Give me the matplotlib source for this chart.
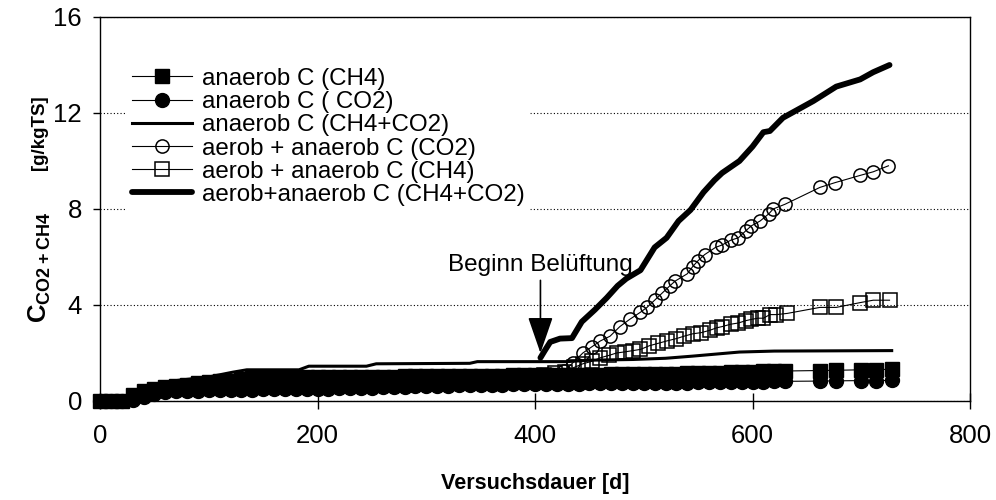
import matplotlib.pyplot as plt

plt.rcParams['font.family'] = ['Liberation Sans', 'DejaVu Sans']
plt.rcParams['mathtext.fontset'] = 'custom'
plt.rcParams['mathtext.rm'] = 'Liberation Sans'
plt.rcParams['mathtext.bf'] = 'Liberation Sans:bold'

# anaerob Messreihe (Tage)
tage_an = [0, 10, 20, 30, 40, 50, 60, 70, 80, 90, 100, 110, 120, 130, 140, 150, 160, 170, 180, 190,
           200, 210, 220, 230, 240, 250, 260, 270, 280, 290, 300, 310, 320, 330, 340, 350, 360, 370,
           380, 390, 400, 410, 420, 430, 440, 450, 460, 470, 480, 490, 500, 510, 520, 530, 540, 550,
           560, 570, 580, 590, 600, 610, 620, 630, 662, 677, 700, 714, 728]
an_ch4 = [0, 0, 0, 0.25, 0.4, 0.5, 0.6, 0.62, 0.65, 0.75, 0.8, 0.82, 0.85, 0.92, 0.94, 0.95, 0.96, 0.97, 0.98, 0.98,
          0.99, 1.0, 1.0, 1.0, 1.01, 1.01, 1.02, 1.02, 1.03, 1.03, 1.04, 1.04, 1.05, 1.05, 1.05, 1.06, 1.06, 1.06,
          1.07, 1.07, 1.08, 1.08, 1.09, 1.09, 1.1, 1.1, 1.1, 1.11, 1.11, 1.12, 1.12, 1.13, 1.13, 1.14, 1.15, 1.16,
          1.17, 1.18, 1.2, 1.21, 1.22, 1.23, 1.24, 1.25, 1.27, 1.28, 1.3, 1.31, 1.32]
an_co2 = [0, 0, 0, 0.05, 0.15, 0.3, 0.38, 0.4, 0.42, 0.43, 0.44, 0.45, 0.45, 0.46, 0.47, 0.48, 0.48, 0.49, 0.5, 0.5,
          0.51, 0.52, 0.53, 0.54, 0.55, 0.56, 0.57, 0.58, 0.6, 0.61, 0.62, 0.63, 0.64, 0.65, 0.66, 0.67, 0.68, 0.68,
          0.69, 0.7, 0.7, 0.71, 0.71, 0.72, 0.72, 0.73, 0.73, 0.74, 0.74, 0.75, 0.75, 0.76, 0.76, 0.77, 0.77, 0.78,
          0.78, 0.79, 0.8, 0.8, 0.81, 0.81, 0.82, 0.82, 0.83, 0.84, 0.85, 0.85, 0.86]

# anaerob Summe
tage_sum = [0, 20, 30, 50, 70, 100, 122, 135, 183, 192, 245, 254, 340, 347, 429, 451, 490, 520, 545, 588, 620, 728]
an_sum = [0, 0, 0.2, 0.6, 0.85, 1.0, 1.2, 1.3, 1.3, 1.45, 1.45, 1.55, 1.57, 1.64, 1.64, 1.7, 1.73, 1.78, 1.87, 2.04,
          2.08, 2.1]

# aerob + anaerob
tage_co2 = [405, 412, 420, 427, 435, 444, 452, 460, 469, 478, 487, 497, 503, 510, 517, 524, 529, 540, 545, 550,
            556, 566, 572, 580, 587, 594, 599, 607, 615, 619, 630, 662, 676, 699, 711, 725]
ae_co2 = [0.9, 1.0, 1.1, 1.25, 1.6, 2.0, 2.25, 2.5, 2.7, 3.1, 3.4, 3.7, 3.9, 4.2, 4.5, 4.8, 5.0, 5.3, 5.6, 5.85,
          6.1, 6.4, 6.5, 6.7, 6.8, 7.1, 7.3, 7.5, 7.8, 8.0, 8.2, 8.9, 9.1, 9.4, 9.55, 9.8]

tage_ch4 = [408, 418, 428, 436, 444, 452, 460, 468, 475, 483, 490, 497, 505, 513, 521, 530, 537, 545, 553, 561,
            567, 572, 580, 587, 594, 599, 605, 610, 616, 622, 632, 662, 677, 699, 711, 726]
ae_ch4 = [1.1, 1.15, 1.2, 1.4, 1.55, 1.65, 1.8, 1.9, 2.0, 2.05, 2.1, 2.15, 2.3, 2.4, 2.5, 2.6, 2.7, 2.8, 2.85, 2.95,
          3.05, 3.1, 3.2, 3.25, 3.35, 3.4, 3.45, 3.45, 3.6, 3.6, 3.65, 3.9, 3.9, 4.1, 4.2, 4.2]

tage_ae_sum = [405, 409, 414, 423, 434, 443, 455, 466, 476, 484, 497, 510, 521, 532, 543, 555, 565, 572, 588, 600,
               610, 616, 628, 642, 656, 677, 699, 711, 726]
ae_sum = [1.8, 2.1, 2.46, 2.6, 2.62, 3.3, 3.8, 4.3, 4.8, 5.1, 5.45, 6.4, 6.8, 7.5, 7.96, 8.7, 9.2, 9.5, 10.0, 10.6,
          11.2, 11.25, 11.8, 12.15, 12.5, 13.1, 13.4, 13.7, 14.0]

fig = plt.figure(figsize=(9.96, 5.0), dpi=100)
ax = fig.add_axes([100 / 996, 1 - 401 / 500, 870 / 996, 384 / 500])

ax.plot(tage_an, an_ch4, color='k', lw=0.8, marker='s', ms=10, mfc='k', mec='k', clip_on=False,
        label='anaerob C (CH4)')
ax.plot(tage_an, an_co2, color='k', lw=0.8, marker='o', ms=10, mfc='k', mec='k', clip_on=False,
        label='anaerob C ( CO2)')
ax.plot(tage_sum, an_sum, color='k', lw=2.2, label='anaerob C (CH4+CO2)')
ax.plot(tage_co2, ae_co2, color='k', lw=0.8, marker='o', ms=9.5, mfc='none', mec='k', mew=1.1,
        label='aerob + anaerob C (CO2)')
ax.plot(tage_ch4, ae_ch4, color='k', lw=0.8, marker='s', ms=9.5, mfc='none', mec='k', mew=1.1,
        label='aerob + anaerob C (CH4)')
ax.plot(tage_ae_sum, ae_sum, color='k', lw=4.2, solid_capstyle='round',
        label='aerob+anaerob C (CH4+CO2)')

ax.set_xlim(0, 800)
ax.set_ylim(0, 16)
ax.set_xticks([0, 200, 400, 600, 800])
ax.set_yticks([0, 4, 8, 12, 16])
ax.yaxis.grid(True, color='k', linestyle=(0, (1, 2)), lw=0.8)
ax.tick_params(axis='x', direction='inout', length=11, width=1, labelsize=18.5, pad=11)
ax.tick_params(axis='y', direction='out', length=5, width=1, labelsize=18.5, pad=8)
for s in ax.spines.values():
    s.set_linewidth(1.0)

ax.set_xlabel('Versuchsdauer [d]', fontsize=15.5, fontweight='bold', labelpad=18)
# y-Beschriftung in zwei Teilen (Index groesser als Einheit)
ax.text(-0.069, 0.348, r'$\mathbf{C_{CO2+CH4}}$', transform=ax.transAxes, rotation=90,
        ha='center', va='center', fontsize=18.5)
ax.text(-0.069, 0.70, '[g/kgTS]', transform=ax.transAxes, rotation=90,
        ha='center', va='center', fontsize=13.5, fontweight='bold')

ax.annotate('Beginn Belüftung', xy=(405, 2.0), xytext=(405, 5.2), ha='center', va='bottom', fontsize=17.5,
            arrowprops=dict(arrowstyle='-|>,head_length=1.3,head_width=0.45', color='k', lw=1.2,
                            shrinkA=1, shrinkB=0))

leg = ax.legend(loc='upper left', bbox_to_anchor=(0.031, 0.88), fontsize=17.4, frameon=True,
                fancybox=False, edgecolor='white', framealpha=1, borderpad=0.2, borderaxespad=0,
                handlelength=2.5, handletextpad=0.4, labelspacing=0.05)

fig.savefig('out.png', dpi=100)
